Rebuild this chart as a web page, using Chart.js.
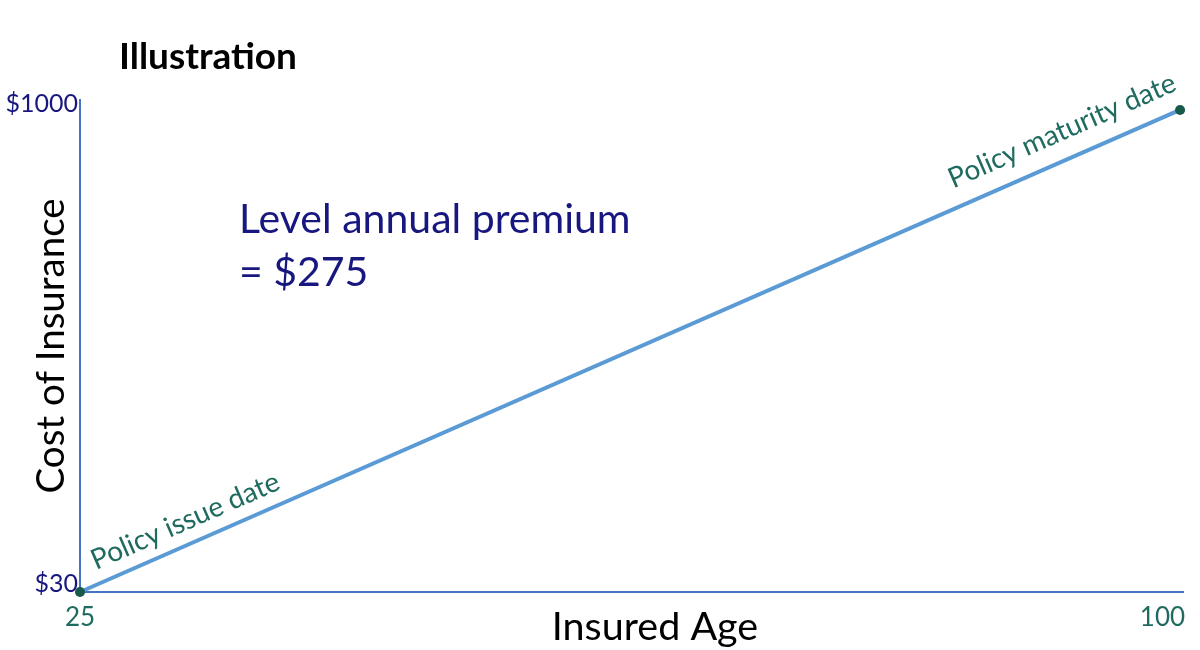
<!DOCTYPE html>
<html><head><meta charset="utf-8">
<script src="https://cdn.jsdelivr.net/npm/chart.js@4.4.0/dist/chart.umd.min.js"></script>
<style>html,body{margin:0;padding:0;background:#fff}#wrap{width:1200px;height:650px}</style>
</head><body><div id="wrap"><canvas id="c" width="1200" height="650"></canvas></div>
<script>
const ages = [25, 100];
const costs = [30, 1000];
const xTickValues = [25, 100];
const yTickValues = [30, 1000];
const xTickLabels = ['25', '100'];
const yTickLabels = ['$30', '$1000'];
const chartTitle = 'Illustration';
const xTitle = 'Insured Age';
const yTitle = 'Cost of Insurance';
const noteLines = ['Level annual premium', '= $275'];
const startNote = 'Policy issue date';
const endNote = 'Policy maturity date';

const FONT = 'Lato, "Open Sans", sans-serif';
const NAVY = '#17177f';
const TEAL = '#1f6b5f';

const overlay = {
  id: 'overlay',
  afterDraw(chart) {
    const ctx = chart.ctx, xs = chart.scales.x, ys = chart.scales.y;
    ctx.save();
    // title
    ctx.fillStyle = '#000';
    ctx.font = 'bold 37px ' + FONT;
    ctx.textAlign = 'left'; ctx.textBaseline = 'middle';
    ctx.fillText(chartTitle, 119, 57);
    // y tick labels
    ctx.fillStyle = NAVY; ctx.font = '25px ' + FONT;
    ctx.textAlign = 'right';
    yTickValues.forEach((v, i) => {
      const off = i === yTickValues.length - 1 ? -6 : -8;
      ctx.fillText(yTickLabels[i], xs.left - 2, ys.getPixelForValue(v) + off);
    });
    // x tick labels
    ctx.fillStyle = TEAL; ctx.font = '26px ' + FONT;
    xTickValues.forEach((v, i) => {
      ctx.textAlign = i === 0 ? 'center' : 'right';
      const px = xs.getPixelForValue(v) + (i === 0 ? 0 : 5);
      ctx.fillText(xTickLabels[i], px, ys.bottom + 26);
    });
    // axis titles
    ctx.fillStyle = '#000';
    ctx.textAlign = 'center';
    ctx.font = '39.5px ' + FONT;
    ctx.fillText(xTitle, 655, 627);
    ctx.save();
    ctx.font = '38.5px ' + FONT;
    ctx.translate(52, 346); ctx.rotate(-Math.PI / 2);
    ctx.fillText(yTitle, 0, 0);
    ctx.restore();
    // note
    ctx.fillStyle = NAVY; ctx.font = '41px ' + FONT;
    ctx.textAlign = 'left';
    ctx.fillText(noteLines[0], 239, 220);
    ctx.fillText(noteLines[1], 239, 273);
    // rotated notes along the line
    const x0 = xs.getPixelForValue(ages[0]), y0 = ys.getPixelForValue(costs[0]);
    const x1 = xs.getPixelForValue(ages[1]), y1 = ys.getPixelForValue(costs[1]);
    const ang = Math.atan2(y1 - y0, x1 - x0);
    ctx.fillStyle = TEAL; ctx.font = '28px ' + FONT;
    ctx.textBaseline = 'alphabetic';
    ctx.save();
    ctx.translate(x0 + 16, y0 - 22); ctx.rotate(ang);
    ctx.textAlign = 'left'; ctx.fillText(startNote, 0, 0);
    ctx.restore();
    ctx.save();
    ctx.translate(x1 - 2, y1 - 20); ctx.rotate(ang);
    ctx.textAlign = 'right'; ctx.fillText(endNote, 0, 0);
    ctx.restore();
    ctx.restore();
  }
};

new Chart(document.getElementById('c'), {
  type: 'line',
  data: {
    datasets: [{
      data: ages.map((a, i) => ({ x: a, y: costs[i] })),
      borderColor: '#5b9bd5',
      borderWidth: 4,
      pointRadius: 5,
      pointBackgroundColor: '#17594a',
      pointBorderColor: '#17594a',
      pointBorderWidth: 0,
      clip: false,
      tension: 0
    }]
  },
  options: {
    responsive: false,
    animation: false,
    layout: { padding: { left: 80, top: 100, right: 17, bottom: 58 } },
    plugins: { legend: { display: false }, tooltip: { enabled: false }, title: { display: false } },
    scales: {
      x: {
        type: 'linear', min: 25, max: 100.2,
        grid: { display: false, drawTicks: false },
        border: { display: true, color: '#4472c4', width: 2 },
        ticks: { display: false }
      },
      y: {
        type: 'linear', min: 30, max: 1020,
        grid: { display: false, drawTicks: false },
        border: { display: true, color: '#4472c4', width: 2 },
        ticks: { display: false }
      }
    }
  },
  plugins: [overlay]
});
</script></body></html>
